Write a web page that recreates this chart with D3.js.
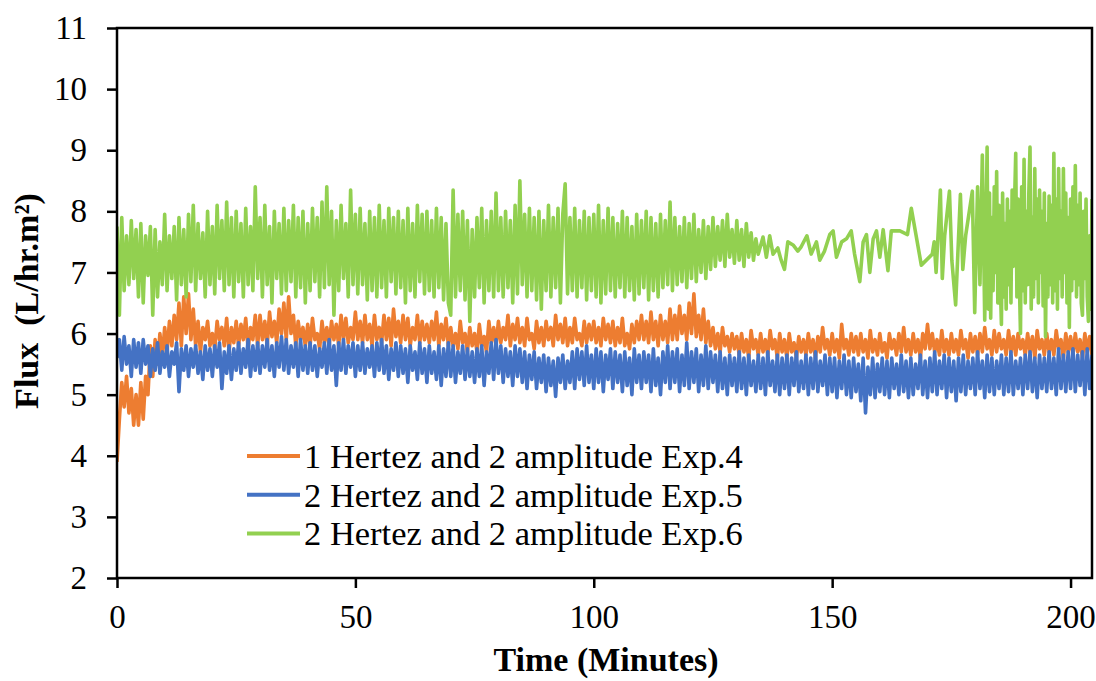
<!DOCTYPE html>
<html lang="en">
<head>
  <meta charset="UTF-8">
  <title>Flux vs Time</title>
  <script src="https://d3js.org/d3.v7.min.js"></script>
  <style>
    body { margin: 0; background: #fff; }
    svg text { font-family: "Liberation Serif", "Times New Roman", serif; fill: #000; }
    .series { fill: none; stroke-width: 3.6px; stroke-linejoin: round; }
  </style>
</head>
<body>
  <svg id="chart" width="1096" height="681"></svg>
  <script>
    // readings are logged every half minute
    const timeStep = 0.5;

    const seriesNames = [
      "1 Hertez and 2 amplitude Exp.4",
      "2 Hertez and 2 amplitude Exp.5",
      "2 Hertez and 2 amplitude Exp.6"
    ];
    const seriesColors = ["#ED7D31", "#4472C4", "#92D050"];

    // Exp.4 (orange), t = 0 .. 204.5
    const orangeFlux = [
      3.9, 4.6, 5.2, 4.8, 5.3, 4.7, 5.1, 4.5, 5.0, 4.5,
      5.2, 4.6, 5.3, 5.0, 5.8, 5.3, 5.9, 5.5, 6.0, 5.6,
      6.1, 5.7, 6.2, 5.8, 6.3, 5.9, 6.5, 5.8, 6.6, 6.0,
      6.65, 5.9, 6.4, 5.8, 6.2, 5.7, 6.1, 5.9, 6.2, 5.8,
      6.0, 5.75, 6.2, 5.9, 6.1, 5.8, 6.25, 5.7, 6.1, 5.85,
      6.2, 5.8, 6.15, 5.9, 6.25, 5.75, 6.1, 5.9, 6.3, 5.8,
      6.3, 5.9, 6.2, 5.8, 6.35, 5.95, 6.2, 5.85, 6.4, 6.0,
      6.5, 5.9, 6.6, 6.0, 6.3, 5.8, 6.2, 5.9, 6.1, 5.8,
      6.15, 5.8, 6.25, 5.9, 6.0, 5.75, 6.2, 5.85, 6.1, 5.8,
      6.2, 5.9, 6.15, 5.8, 6.3, 5.9, 6.25, 5.85, 6.1, 5.9,
      6.35, 5.9, 6.2, 5.85, 6.3, 5.9, 6.15, 5.8, 6.3, 5.9,
      6.1, 5.85, 6.3, 5.9, 6.25, 5.8, 6.4, 5.95, 6.2, 5.85,
      6.3, 5.9, 6.25, 5.8, 6.1, 5.9, 6.3, 5.85, 6.2, 5.9,
      6.15, 5.85, 6.2, 5.9, 6.35, 5.8, 6.15, 5.9, 6.25, 5.8,
      6.1, 5.8, 6.0, 5.75, 6.2, 5.85, 6.0, 5.7, 6.1, 5.8,
      6.0, 5.7, 6.15, 5.8, 5.95, 5.7, 6.2, 5.85, 6.1, 5.8,
      6.2, 5.85, 6.1, 5.9, 6.3, 5.8, 6.15, 5.9, 6.25, 5.85,
      6.1, 5.8, 6.25, 5.9, 6.0, 5.75, 6.2, 5.85, 6.1, 5.8,
      6.2, 5.9, 6.1, 5.8, 6.3, 5.9, 6.15, 5.85, 6.25, 5.8,
      6.1, 5.85, 6.25, 5.9, 6.0, 5.8, 6.2, 5.85, 6.15, 5.9,
      6.2, 5.85, 6.1, 5.8, 6.25, 5.9, 6.15, 5.85, 6.2, 5.8,
      6.1, 5.85, 6.25, 5.8, 6.0, 5.75, 6.15, 5.85, 6.2, 5.9,
      6.3, 5.9, 6.2, 5.85, 6.35, 5.9, 6.2, 5.8, 6.3, 5.9,
      6.2, 5.85, 6.4, 5.9, 6.3, 5.9, 6.45, 6.0, 6.3, 5.9,
      6.5, 6.0, 6.65, 5.95, 6.3, 5.9, 6.4, 5.85, 6.2, 5.8,
      6.1, 5.75, 6.0, 5.7, 6.1, 5.8, 5.95, 5.7, 6.0, 5.75,
      5.95, 5.65, 6.0, 5.7, 5.9, 5.6, 6.05, 5.75, 5.9, 5.65,
      6.0, 5.7, 5.9, 5.65, 6.05, 5.75, 5.9, 5.6, 6.0, 5.7,
      5.9, 5.6, 6.0, 5.7, 5.85, 5.6, 5.95, 5.7, 5.9, 5.65,
      6.0, 5.7, 5.9, 5.6, 5.95, 5.7, 6.1, 5.75, 5.9, 5.65,
      6.0, 5.7, 5.9, 5.6, 6.15, 5.75, 5.9, 5.65, 6.0, 5.7,
      5.95, 5.65, 6.0, 5.7, 5.9, 5.6, 6.05, 5.7, 5.9, 5.65,
      6.0, 5.7, 5.85, 5.6, 6.0, 5.75, 5.9, 5.65, 6.0, 5.7,
      6.1, 5.7, 5.9, 5.65, 6.0, 5.7, 5.9, 5.6, 6.0, 5.75,
      6.15, 5.75, 6.0, 5.7, 5.9, 5.65, 6.05, 5.7, 5.9, 5.65,
      6.0, 5.7, 5.9, 5.65, 6.05, 5.75, 5.9, 5.6, 6.0, 5.7,
      5.95, 5.65, 6.0, 5.7, 6.1, 5.75, 5.9, 5.65, 6.05, 5.7,
      6.0, 5.75, 5.9, 5.65, 6.05, 5.7, 5.95, 5.65, 6.0, 5.75,
      5.9, 5.65, 6.0, 5.7, 5.95, 5.6, 6.05, 5.75, 5.9, 5.65,
      6.0, 5.7, 5.9, 5.65, 6.05, 5.75, 5.9, 5.6, 6.0, 5.7,
      5.95, 5.65, 6.0, 5.7, 5.9, 5.6, 6.0, 5.7, 5.95, 5.65
    ];

    // Exp.5 (blue), t = 0 .. 204.5
    const blueFlux = [
      5.6, 5.9, 5.4, 5.95, 5.5, 5.8, 5.3, 5.9, 5.45, 5.85,
      5.35, 5.9, 5.5, 5.8, 5.3, 5.75, 5.4, 5.85, 5.35, 5.7,
      5.45, 5.8, 5.3, 5.7, 5.5, 5.85, 5.05, 5.75, 5.4, 5.8,
      5.3, 5.75, 5.45, 5.8, 5.35, 5.7, 5.25, 5.8, 5.4, 5.75,
      5.3, 5.8, 5.45, 5.85, 5.1, 5.7, 5.35, 5.8, 5.25, 5.75,
      5.4, 5.85, 5.35, 5.75, 5.45, 5.9, 5.3, 5.8, 5.4, 5.85,
      5.35, 5.8, 5.45, 5.9, 5.4, 5.8, 5.3, 5.85, 5.45, 5.95,
      5.4, 5.9, 5.35, 5.8, 5.45, 5.85, 5.3, 5.9, 5.4, 5.8,
      5.35, 5.85, 5.4, 5.8, 5.3, 5.75, 5.45, 5.85, 5.35, 5.9,
      5.4, 5.8, 5.15, 5.85, 5.4, 5.9, 5.35, 5.8, 5.45, 5.85,
      5.3, 5.8, 5.4, 5.85, 5.35, 5.75, 5.45, 5.8, 5.3, 5.85,
      5.4, 5.9, 5.35, 5.8, 5.25, 5.75, 5.4, 5.85, 5.3, 5.8,
      5.35, 5.75, 5.2, 5.8, 5.4, 5.7, 5.25, 5.85, 5.35, 5.75,
      5.2, 5.8, 5.35, 5.7, 5.25, 5.8, 5.15, 5.75, 5.3, 5.85,
      5.3, 5.8, 5.2, 5.7, 5.35, 5.8, 5.25, 5.75, 5.3, 5.7,
      5.2, 5.75, 5.3, 5.8, 5.15, 5.7, 5.35, 5.85, 5.25, 5.9,
      5.35, 5.8, 5.2, 5.75, 5.3, 5.7, 5.15, 5.8, 5.3, 5.75,
      5.2, 5.7, 5.1, 5.65, 5.25, 5.7, 5.1, 5.6, 5.2, 5.65,
      5.05, 5.6, 5.15, 5.55, 4.97, 5.6, 5.2, 5.65, 5.1, 5.55,
      5.2, 5.7, 5.1, 5.75, 5.25, 5.7, 5.15, 5.8, 5.2, 5.65,
      5.1, 5.75, 5.2, 5.7, 5.05, 5.65, 5.25, 5.75, 5.1, 5.7,
      5.2, 5.65, 5.05, 5.7, 5.15, 5.6, 5.0, 5.75, 5.2, 5.65,
      5.1, 5.7, 5.2, 5.65, 5.05, 5.75, 5.15, 5.6, 5.0, 5.7,
      5.2, 5.8, 5.1, 5.7, 5.2, 5.75, 5.05, 5.65, 5.15, 5.85,
      5.1, 5.7, 5.2, 5.75, 5.05, 5.65, 5.15, 5.8, 5.1, 5.7,
      5.2, 5.65, 5.05, 5.7, 5.1, 5.6, 5.0, 5.65, 5.15, 5.6,
      5.05, 5.7, 5.1, 5.6, 5.0, 5.65, 5.15, 5.55, 5.05, 5.65,
      5.1, 5.6, 5.0, 5.7, 5.15, 5.55, 5.05, 5.65, 5.0, 5.6,
      5.1, 5.65, 5.0, 5.6, 5.15, 5.7, 5.05, 5.55, 5.1, 5.65,
      5.0, 5.6, 5.1, 5.7, 5.05, 5.55, 5.15, 5.65, 5.0, 5.6,
      5.05, 5.6, 4.95, 5.55, 5.1, 5.65, 5.0, 5.55, 4.95, 5.6,
      5.05, 5.5, 4.9, 5.6, 4.7, 5.45, 5.0, 5.6, 4.95, 5.5,
      5.05, 5.6, 5.0, 5.55, 4.95, 5.6, 5.1, 5.5, 5.0, 5.65,
      5.05, 5.55, 4.95, 5.6, 5.0, 5.5, 5.1, 5.65, 5.0, 5.55,
      4.95, 5.6, 5.05, 5.7, 5.0, 5.55, 5.1, 5.65, 4.95, 5.6,
      5.05, 5.55, 4.9, 5.6, 5.05, 5.65, 5.0, 5.55, 5.1, 5.6,
      5.0, 5.7, 5.1, 5.55, 4.95, 5.65, 5.05, 5.6, 5.0, 5.55,
      5.1, 5.65, 5.0, 5.6, 5.05, 5.7, 5.0, 5.55, 5.1, 5.6,
      5.0, 5.65, 5.1, 5.7, 5.05, 5.6, 4.95, 5.65, 5.1, 5.6,
      5.05, 5.7, 5.1, 5.6, 5.0, 5.75, 5.1, 5.65, 5.05, 5.7,
      5.1, 5.75, 5.05, 5.65, 5.15, 5.7, 5.0, 5.75, 5.1, 5.65
    ];

    // Exp.6 (green), dense part t = 0 .. 134.5
    const greenFluxEarly = [
      7.75, 6.3, 7.9, 6.7, 7.6, 6.8, 7.85, 6.9, 7.7, 6.6,
      7.8, 6.5, 7.6, 6.95, 7.75, 6.3, 7.7, 6.6, 7.5, 6.8,
      7.95, 6.7, 7.6, 6.9, 7.75, 6.55, 7.9, 6.8, 7.7, 6.6,
      7.95, 6.85, 8.1, 6.7, 7.8, 6.9, 7.65, 6.6, 8.0, 6.8,
      7.75, 6.65, 8.1, 6.9, 7.85, 6.7, 8.15, 6.8, 7.9, 6.6,
      8.0, 6.85, 7.8, 6.6, 8.05, 6.8, 7.75, 6.7, 8.4, 6.9,
      7.9, 6.6, 8.1, 6.8, 7.75, 6.5, 8.0, 6.9, 7.8, 6.65,
      8.05, 6.7, 7.85, 6.85, 8.1, 6.6, 7.9, 6.75, 8.0, 6.5,
      7.8, 6.7, 8.05, 6.85, 7.9, 6.6, 8.15, 6.75, 8.4, 6.8,
      8.0, 6.3, 7.85, 6.7, 8.1, 6.9, 7.8, 6.6, 8.35, 6.8,
      7.95, 6.65, 8.05, 6.8, 7.8, 6.55, 8.0, 6.7, 7.9, 6.6,
      8.1, 6.75, 7.85, 6.6, 8.05, 6.85, 7.9, 6.65, 8.0, 6.75,
      7.85, 6.5, 8.05, 6.7, 7.8, 6.6, 8.1, 6.85, 7.95, 6.65,
      8.0, 6.7, 7.85, 6.6, 8.05, 6.75, 7.9, 6.55, 7.8, 6.5,
      6.3, 8.35, 6.6, 7.95, 6.7, 8.0, 6.55, 7.85, 6.2, 7.7,
      6.6, 7.9, 6.75, 8.05, 6.5, 7.85, 6.7, 8.0, 6.6, 8.3,
      6.7, 7.9, 6.6, 8.0, 6.75, 7.85, 6.5, 8.1, 6.65, 8.5,
      6.8, 7.95, 6.6, 8.05, 6.7, 7.9, 6.55, 8.0, 6.4, 7.85,
      6.7, 8.1, 6.6, 7.9, 6.75, 8.05, 6.5, 7.95, 8.45, 6.65,
      7.9, 6.7, 8.05, 6.6, 7.85, 6.75, 8.0, 6.55, 7.9, 6.7,
      7.95, 6.6, 8.1, 6.5, 7.85, 6.65, 8.05, 6.7, 7.9, 6.6,
      7.8, 6.75, 8.0, 6.6, 7.9, 6.7, 7.75, 6.55, 7.95, 6.65,
      7.85, 6.75, 8.0, 6.55, 7.9, 6.7, 7.8, 6.6, 7.95, 6.75,
      7.85, 6.8, 8.15, 6.7, 7.9, 6.8, 7.75, 6.85, 7.9, 6.75,
      7.8, 6.9, 7.95, 6.85, 7.7, 7.0, 7.85, 6.9, 7.75, 7.05,
      7.9, 7.1, 7.75, 7.2, 7.85, 7.1, 7.95, 7.25, 7.7, 7.15,
      7.85, 7.2, 7.7, 7.1, 7.8, 7.25, 7.65, 7.2, 7.55, 7.3
    ];

    // Exp.6 sparse stretch, irregular readings
    const greenMidTime = [
      135.5, 136.2, 136.9, 137.6, 138.6, 139.3, 140.0, 140.7, 141.8, 142.8,
      143.5, 144.7, 145.6, 146.7, 147.4, 148.4, 149.5, 150.2, 150.9, 152.0,
      153.0, 154.0, 154.7, 155.8, 156.5, 157.2, 157.9, 158.6, 159.3, 160.0,
      160.7, 161.7, 162.4, 164.2, 165.8, 166.6, 168.7, 171.0, 171.4, 171.8,
      172.7, 173.1, 173.6, 174.6, 175.1, 175.9, 176.9, 177.4, 178.0, 179.4,
      179.9, 180.5, 181.0, 181.5, 182.0
    ];
    const greenMidFlux = [
      7.58, 7.25, 7.6, 7.3, 7.4, 7.2, 7.05, 7.5, 7.45, 7.35,
      7.42, 7.6, 7.3, 7.5, 7.2, 7.35, 7.62, 7.68, 7.25, 7.5,
      7.55, 7.68, 7.3, 6.85, 7.5, 7.62, 7.0, 7.55, 7.68, 7.25,
      7.7, 7.03, 7.68, 7.68, 7.62, 8.05, 7.12, 7.3, 7.5, 7.0,
      8.35, 6.9, 7.6, 8.33, 7.2, 6.47, 8.28, 7.05, 7.6, 8.33,
      6.34, 8.4, 6.8, 8.92, 6.22
    ];

    // Exp.6 dense part again, every quarter minute, t = 182.5 .. 204.5
    const greenLateStart = 182.5;
    const greenLateStep = 0.25;
    const greenFluxLate = [
      9.05, 6.4, 8.3, 6.25, 7.9, 6.7, 8.4, 7.0, 8.65, 6.5,
      8.1, 6.9, 6.15, 8.3, 6.6, 7.8, 6.4, 8.2, 6.8, 8.0,
      6.5, 8.35, 7.1, 8.1, 8.95, 6.6, 8.2, 6.9, 6.0, 8.4,
      6.7, 8.85, 6.5, 8.0, 6.8, 8.3, 9.05, 6.4, 7.9, 6.6,
      8.7, 6.9, 8.2, 6.5, 8.35, 7.0, 8.0, 6.45, 8.3, 5.95,
      7.8, 6.6, 8.25, 6.8, 8.1, 6.5, 8.95, 6.7, 8.2, 6.4,
      8.7, 6.9, 8.0, 6.6, 8.7, 7.0, 8.3, 6.5, 7.9, 6.1,
      8.2, 6.7, 8.4, 6.9, 8.75, 6.6, 8.1, 6.8, 8.3, 6.5,
      6.3, 8.0, 6.9, 8.2, 6.6, 6.2, 7.6, 6.4, 8.2
    ];

    const xTicks = [0, 50, 100, 150, 200];
    const yTicks = [2, 3, 4, 5, 6, 7, 8, 9, 10, 11];

    const plot = { left: 117, right: 1092, top: 28, bottom: 578 };

    const x = d3.scaleLinear().domain([0, 204.5]).range([plot.left, plot.right]);
    const y = d3.scaleLinear().domain([2, 11]).range([plot.bottom, plot.top]);

    const stepped = (arr, start, step) => arr.map((v, i) => ({ t: start + i * step, v }));

    const series = [
      stepped(orangeFlux, 0, timeStep),
      stepped(blueFlux, 0, timeStep),
      stepped(greenFluxEarly, 0, timeStep)
        .concat(greenMidTime.map((t, i) => ({ t, v: greenMidFlux[i] })))
        .concat(stepped(greenFluxLate, greenLateStart, greenLateStep))
    ];

    const svg = d3.select("#chart");

    svg.append("defs").append("clipPath").attr("id", "plot-clip")
      .append("rect")
      .attr("x", plot.left).attr("y", plot.top)
      .attr("width", plot.right - plot.left).attr("height", plot.bottom - plot.top);

    const line = d3.line().x(d => x(d.t)).y(d => y(d.v));

    svg.append("g").attr("clip-path", "url(#plot-clip)")
      .selectAll("path")
      .data(series)
      .enter()
      .append("path")
      .attr("class", "series")
      .attr("stroke", (d, i) => seriesColors[i])
      .attr("d", line);

    // frame round the plot area
    svg.append("rect")
      .attr("x", plot.left).attr("y", plot.top)
      .attr("width", plot.right - plot.left).attr("height", plot.bottom - plot.top)
      .attr("fill", "none").attr("stroke", "#000").attr("stroke-width", 2.5);

    const yAxis = svg.append("g")
      .attr("transform", `translate(${plot.left},0)`)
      .call(d3.axisLeft(y).tickValues(yTicks).tickSize(10).tickPadding(20));
    const xAxis = svg.append("g")
      .attr("transform", `translate(0,${plot.bottom})`)
      .call(d3.axisBottom(x).tickValues(xTicks).tickSize(10).tickPadding(17));

    [xAxis, yAxis].forEach(ax => {
      ax.select(".domain").remove();
      ax.selectAll(".tick line").attr("stroke", "#000").attr("stroke-width", 2.5);
      ax.selectAll(".tick text")
        .attr("font-size", "33px")
        .attr("font-family", "'Liberation Serif', 'Times New Roman', serif")
        .attr("fill", "#000");
    });

    svg.append("text")
      .attr("x", 606).attr("y", 671)
      .attr("text-anchor", "middle")
      .attr("font-size", "34px").attr("font-weight", "bold")
      .text("Time (Minutes)");

    svg.append("text")
      .attr("transform", "translate(38,301) rotate(-90)")
      .attr("text-anchor", "middle")
      .attr("font-size", "34px").attr("font-weight", "bold")
      .style("white-space", "pre")
      .text("Flux  (L/hr.m²)");

    // legend
    const legend = svg.append("g").attr("transform", "translate(247,456)");
    seriesNames.forEach((name, i) => {
      const row = legend.append("g").attr("transform", `translate(0,${i * 38.7})`);
      row.append("line")
        .attr("x1", 0).attr("x2", 53)
        .attr("stroke", seriesColors[i]).attr("stroke-width", 4);
      row.append("text")
        .attr("x", 57).attr("y", 12)
        .attr("font-size", "34.5px")
        .text(name);
    });
  </script>
</body>
</html>
